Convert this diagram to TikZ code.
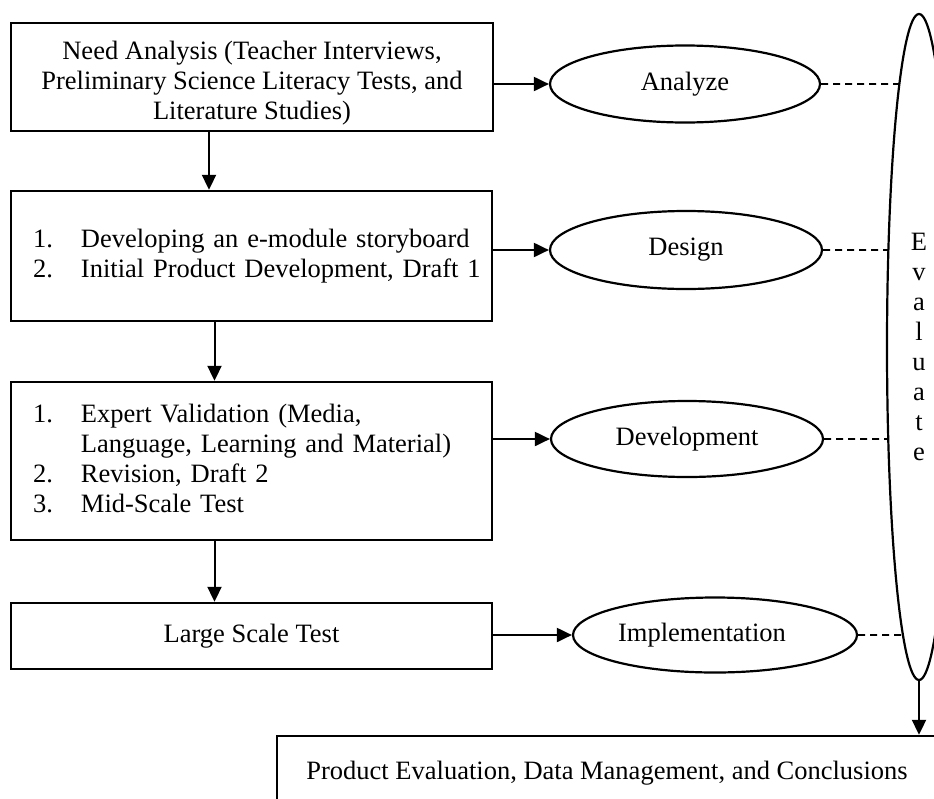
\documentclass[tikz,border=0pt]{standalone}
\usepackage{fontspec}
\setmainfont{Liberation Serif}
\usetikzlibrary{shapes.geometric,arrows.meta,intersections}
\begin{document}
\begin{tikzpicture}[x=1pt,y=-1pt,
  every node/.style={font=\fontsize{26.5pt}{30pt}\selectfont},
  boxnode/.style={draw, line width=2.4pt, rectangle, inner sep=0pt},
  ovalnode/.style={draw, ellipse, line width=2.2pt, inner sep=0pt},
  arr/.style={line width=2pt, -{Triangle[length=15pt,width=14pt]}},
  dashline/.style={line width=1.6pt, dash pattern=on 7pt off 5pt}]
\clip (0,0) rectangle (934,798);

% left column boxes
\node[boxnode, minimum width=482pt, minimum height=108pt] (b1) at (252,77) {};
\node[align=center, inner sep=0pt] (b1t) at (252,83)
  {Need Analysis (Teacher Interviews,\\Preliminary Science Literacy Tests, and\\Literature Studies)};
\node[boxnode, minimum width=481pt, minimum height=130pt, text width=481pt, align=left] (b2) at (251.5,256)
  {\hspace*{22pt}\begin{tabular}{@{}p{48pt}@{}l@{}}1. & Developing an e-module storyboard\\2. & Initial Product Development, Draft 1\end{tabular}};
\node[boxnode, minimum width=481pt, minimum height=158pt, text width=481pt, align=left] (b3) at (251.5,461)
  {\hspace*{22pt}\begin{tabular}{@{}p{48pt}@{}l@{}}1. & Expert Validation (Media,\\ & Language, Learning and Material)\\2. & Revision, Draft 2\\3. & Mid-Scale Test\end{tabular}};
\node[boxnode, minimum width=481pt, minimum height=66pt] (b4) at (251.5,636) {Large Scale Test};

% phase ellipses
\node[ovalnode, minimum width=270pt, minimum height=77pt] (an) at (685,84) {Analyze};
\node[ovalnode, minimum width=272pt, minimum height=78pt] (de) at (686,250) {Design};
\node[ovalnode, minimum width=272pt, minimum height=76pt] (dv) at (687,439) {Development};
\node[ovalnode, minimum width=284pt, minimum height=75pt] (im) at (715,635) {\hspace*{-26pt}Implementation};

% evaluate ellipse
\node[ovalnode, minimum width=64pt, minimum height=666pt, align=center] (ev) at (919,347)
  {E\\v\\a\\l\\u\\a\\t\\e};

% final box
\node[boxnode, minimum width=660pt, minimum height=74pt] (fin) at (607,773)
  {Product Evaluation, Data Management, and Conclusions};

% vertical arrows
\draw[arr] ([xshift=-43pt]b1.south) -- ([xshift=-43pt]b1.south |- b2.north);
\draw[arr] ([xshift=-37pt]b2.south) -- ([xshift=-37pt]b3.north);
\draw[arr] ([xshift=-37pt]b3.south) -- ([xshift=-37pt]b4.north);

% horizontal arrows
\draw[arr] (b1.east |- an.west) -- (an.west);
\draw[arr] (b2.east |- de.west) -- (de.west);
\draw[arr] (b3.east |- dv.west) -- (dv.west);
\draw[arr] (b4.east |- im.west) -- (im.west);

% evaluate to final
\draw[arr] (ev.south) -- (ev.south |- fin.north);

% dashed links
\path[name path=evp] (ev.center) ellipse [x radius=32pt, y radius=333pt];
\path[name path=h1] (an.east) -- (an.east -| ev.center);
\path[name path=h2] (de.east) -- (de.east -| ev.center);
\path[name path=h3] (dv.east) -- (dv.east -| ev.center);
\path[name path=h4] (im.east) -- (im.east -| ev.center);
\path[name intersections={of=evp and h1, by={e1}}];
\path[name intersections={of=evp and h2, by={e2}}];
\path[name intersections={of=evp and h3, by={e3}}];
\path[name intersections={of=evp and h4, by={e4}}];
\draw[dashline] (an.east) -- (e1);
\draw[dashline] (de.east) -- (e2);
\draw[dashline] (dv.east) -- (e3);
\draw[dashline] (im.east) -- (e4);
\end{tikzpicture}
\end{document}
